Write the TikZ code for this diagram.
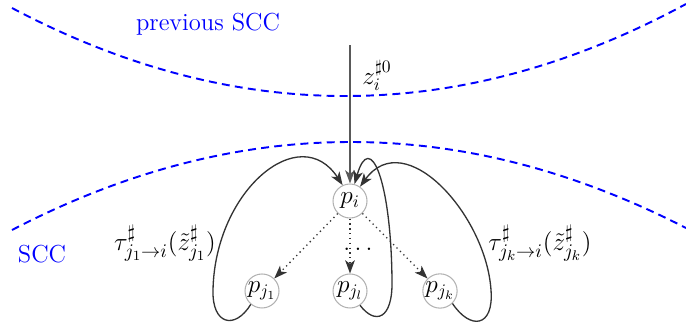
\documentclass[tikz,border=0pt]{standalone}
\usepackage{tikz}
\usetikzlibrary{positioning,arrows.meta}

\begin{document}
\begin{tikzpicture}[
    x=0.02cm, y=-0.02cm,
    every node/.style={font=\fontsize{14}{17}\selectfont},
    state/.style={
        circle,
        draw=black!30,
        line width=0.6pt,
        minimum size=0.68cm,
        inner sep=0pt
    },
    trans/.style={font=\fontsize{15.2}{18}\selectfont},
    region/.style={blue, dashed, line width=1.1pt, dash pattern=on 4.5pt off 3pt},
    arrow/.style={-{Stealth[length=7.5pt,width=5.5pt,inset=2pt]}, black!80, line width=0.75pt},
    dotarrow/.style={arrow, dotted}
]
\useasboundingbox (0,0) rectangle (686,335);

% SCC borders
\draw [region] (12,8) .. controls (237,127) and (462,125) .. (686,4);
\draw [region] (12,230) .. controls (237,113) and (462,113) .. (686,228);
\node (prevscc) [blue] at (208,24) {previous SCC};
\node (scc) [blue] at (42,254) {SCC};

% Nodes
\node (pi) [state] at (350,201) {$p_i$};
\node (pj1) [state, on grid, below left=1.8cm and 1.76cm of pi] {$p_{j_1}$};
\node (pjl) [state, on grid, below=1.8cm of pi] {$p_{j_l}$};
\node (pjk) [state, on grid, below right=1.8cm and 1.8cm of pi] {$p_{j_k}$};

\coordinate (src) at (350,45);
\node (zlab) at (377,75) {$z_i^{\sharp 0}$};
\node (dots) at (358,249) {$\dots$};
\node (tau1) [trans] at (165,243) {$\tau^\sharp_{j_1\rightarrow i}(\tilde{z}^\sharp_{j_1})$};
\node (tauk) [trans] at (540,243) {$\tau^\sharp_{j_k\rightarrow i}(\tilde{z}^\sharp_{j_k})$};

% Arrows
\draw [arrow, black!65] (src) -- (pi);
\draw [dotarrow] (pi) -- (pj1);
\draw [dotarrow] (pi) -- (pjl);
\draw [dotarrow] (pi) -- (pjk);

\draw [arrow] (pj1.-130) .. controls (235,330) and (212,325) .. (213,290)
    .. controls (215,190) and (300,120) .. (pi.115);
\draw [arrow] (pjl.-55) .. controls (375,325) and (393,320) .. (392,280)
    .. controls (391,180) and (370,130) .. (pi.75);
\draw [arrow] (pjk.-45) .. controls (470,330) and (494,328) .. (491,290)
    .. controls (486,215) and (405,125) .. (pi.55);

\end{tikzpicture}
\end{document}
